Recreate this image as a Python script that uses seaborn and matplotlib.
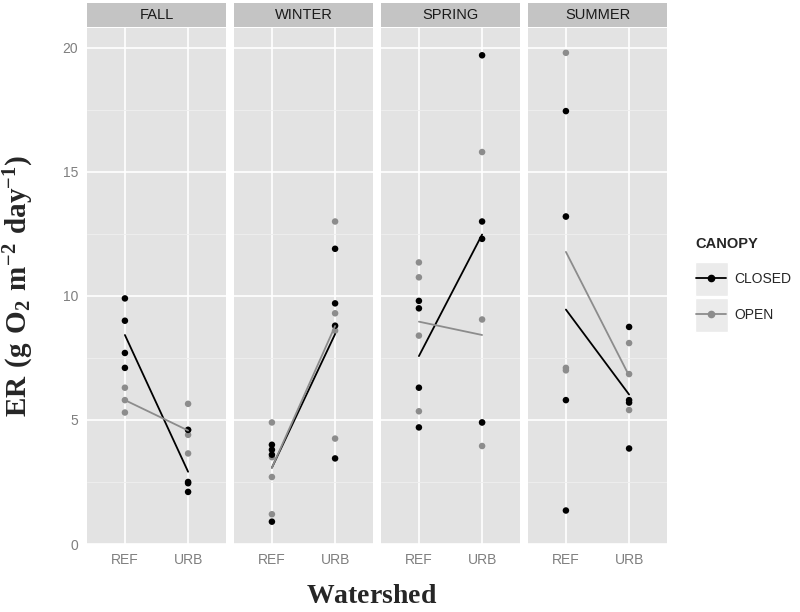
"""
ER by watershed and canopy, one panel per season (ggplot-like facets).
"""

import pandas as pd
import matplotlib.pyplot as plt
import seaborn as sns
from matplotlib.lines import Line2D
from matplotlib.patches import Rectangle

sns.set_theme(style="darkgrid")
plt.rcParams["font.family"] = ["Liberation Sans", "DejaVu Sans"]
plt.rcParams["mathtext.fontset"] = "custom"
plt.rcParams["mathtext.rm"] = "Liberation Serif"
plt.rcParams["mathtext.bf"] = "Liberation Serif:bold"

# ── Data ──────────────────────────────────────────────────
seasons = ["FALL", "WINTER", "SPRING", "SUMMER"]
watersheds = ["REF", "URB"]
canopies = ["CLOSED", "OPEN"]

fall_ref_closed = [9.9, 9.0, 7.7, 7.1]
fall_ref_open = [6.3, 5.8, 5.3]
fall_urb_closed = [4.6, 2.5, 2.45, 2.1]
fall_urb_open = [5.65, 4.6, 4.4, 3.65]

winter_ref_closed = [4.0, 3.8, 3.6, 0.9]
winter_ref_open = [4.9, 3.5, 2.7, 1.2]
winter_urb_closed = [11.9, 9.7, 8.8, 3.45]
winter_urb_open = [13.0, 9.3, 8.6, 4.25]

spring_ref_closed = [9.8, 9.5, 6.3, 4.7]
spring_ref_open = [11.35, 10.75, 8.4, 5.35]
spring_urb_closed = [19.7, 13.0, 12.3, 4.9]
spring_urb_open = [15.8, 9.05, 4.9, 3.95]

summer_ref_closed = [17.45, 13.2, 5.8, 1.35]
summer_ref_open = [19.8, 13.2, 7.1, 7.0]
summer_urb_closed = [8.75, 5.8, 5.7, 3.85]
summer_urb_open = [8.1, 6.85, 5.4]

values = {
    ("FALL", "REF", "CLOSED"): fall_ref_closed,
    ("FALL", "REF", "OPEN"): fall_ref_open,
    ("FALL", "URB", "CLOSED"): fall_urb_closed,
    ("FALL", "URB", "OPEN"): fall_urb_open,
    ("WINTER", "REF", "CLOSED"): winter_ref_closed,
    ("WINTER", "REF", "OPEN"): winter_ref_open,
    ("WINTER", "URB", "CLOSED"): winter_urb_closed,
    ("WINTER", "URB", "OPEN"): winter_urb_open,
    ("SPRING", "REF", "CLOSED"): spring_ref_closed,
    ("SPRING", "REF", "OPEN"): spring_ref_open,
    ("SPRING", "URB", "CLOSED"): spring_urb_closed,
    ("SPRING", "URB", "OPEN"): spring_urb_open,
    ("SUMMER", "REF", "CLOSED"): summer_ref_closed,
    ("SUMMER", "REF", "OPEN"): summer_ref_open,
    ("SUMMER", "URB", "CLOSED"): summer_urb_closed,
    ("SUMMER", "URB", "OPEN"): summer_urb_open,
}

rows = []
for (season, ws, can), vals in values.items():
    for v in vals:
        rows.append({"Season": season, "Watershed": ws, "CANOPY": can,
                     "pos": watersheds.index(ws), "ER": v})
df = pd.DataFrame(rows)
# open points first so the closed (black) ones sit on top
df = df.sort_values("CANOPY", ascending=False, kind="stable")

palette = {"CLOSED": "#000000", "OPEN": "#8c8c8c"}
panel_bg = "#e3e3e3"
strip_bg = "#c4c4c4"
tick_col = "#7f7f7f"

# ── Figure ────────────────────────────────────────────────
W, H = 800, 612
fig, axes = plt.subplots(1, 4, figsize=(8, 6.12), dpi=100, sharey=True)
fig.subplots_adjust(left=87 / W, right=667 / W, top=1 - 28 / H,
                    bottom=1 - 544 / H, wspace=8 / 139)

for ax, season in zip(axes, seasons):
    sub = df[df["Season"] == season]
    ax.set_facecolor(panel_bg)
    sns.scatterplot(data=sub, x="pos", y="ER", hue="CANOPY", palette=palette,
                    hue_order=canopies, s=22, linewidth=0, legend=False,
                    ax=ax, zorder=3)
    sns.lineplot(data=sub, x="pos", y="ER", hue="CANOPY", palette=palette,
                 hue_order=canopies, estimator="mean", errorbar=None,
                 linewidth=1.3, legend=False, ax=ax, zorder=4)

    ax.set_xlim(-0.6, 1.6)
    ax.set_ylim(0, 20.8)
    ax.set_xticks([0, 1])
    ax.set_xticklabels(watersheds)
    ax.set_yticks([0, 5, 10, 15, 20])
    ax.set_yticks([2.5, 7.5, 12.5, 17.5], minor=True)
    ax.grid(which="major", color="white", linewidth=1.2)
    ax.grid(which="minor", axis="y", color="#efefef", linewidth=0.6)
    ax.set_axisbelow(True)
    for s in ax.spines.values():
        s.set_visible(False)
    ax.tick_params(axis="both", which="major", length=3.5, width=0.8,
                   color=tick_col, labelcolor=tick_col, labelsize=10, pad=3)
    ax.tick_params(axis="y", which="minor", length=0)
    ax.set_xlabel("")
    ax.set_ylabel("")

    # facet strip
    ax.add_patch(Rectangle((0, 1.002), 1, 0.046, transform=ax.transAxes,
                           facecolor=strip_bg, edgecolor="none", clip_on=False))
    ax.text(0.5, 1.025, season, transform=ax.transAxes, ha="center",
            va="center", fontsize=10.5, color="#1a1a1a")

for ax in axes[1:]:
    ax.tick_params(axis="y", which="both", left=False, labelleft=False)

# axis titles
fig.text(372 / W, 1 - 596 / H, r"$\mathbf{Watershed}$", ha="center",
         va="center", fontsize=20)
fig.text(19 / W, 1 - 286 / H,
         r"$\mathbf{ER\ (g\ O_2\ m^{-2}\ day^{-1})}$", ha="center",
         va="center", fontsize=21, rotation=90)

# legend
for i in range(2):
    fig.add_artist(Rectangle((695 / W, 1 - (296 + 36 * i) / H), 33 / W,
                             34 / H, transform=fig.transFigure,
                             facecolor="#ebebeb", edgecolor="white"))
handles = [Line2D([], [], color=palette[c], marker="o", markersize=4.5,
                  linewidth=1.3) for c in canopies]
leg = fig.legend(handles, canopies, title="CANOPY", loc="upper left",
                 bbox_to_anchor=(683 / W, 1 - 224 / H), frameon=False,
                 fontsize=10, title_fontsize=10.5, handlelength=2.2,
                 labelspacing=1.55, handletextpad=0.6, alignment="left")
leg.get_title().set_fontweight("bold")

fig.savefig("out.png", dpi=100)
